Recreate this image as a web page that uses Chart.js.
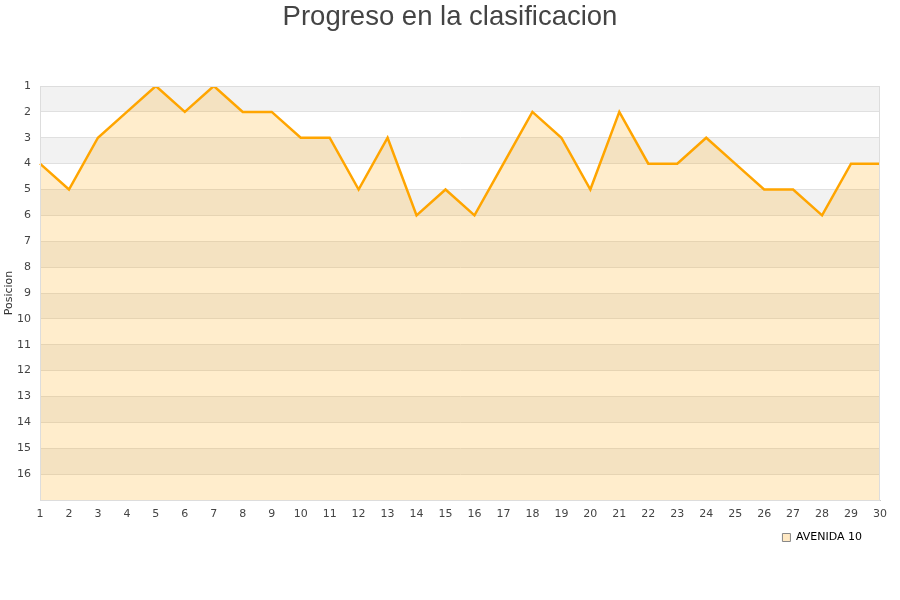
<!DOCTYPE html>
<html>
<head>
<meta charset="utf-8">
<script src="https://cdn.jsdelivr.net/npm/chart.js@4/dist/chart.umd.min.js"></script>
<style>
  html, body { margin: 0; padding: 0; background: #fff; }
  #wrap { width: 900px; height: 600px; }
</style>
</head>
<body>
<div id="wrap"><canvas id="chart" width="900" height="600"></canvas></div>
<script>
const jornadas = ['1', '2', '3', '4', '5', '6', '7', '8', '9', '10', '11', '12', '13', '14', '15',
  '16', '17', '18', '19', '20', '21', '22', '23', '24', '25', '26', '27', '28', '29', '30'];
const posiciones = [4, 5, 3, 2, 1, 2, 1, 2, 2, 3, 3, 5, 3, 6, 5, 6, 4, 2, 3, 5, 2, 4, 4, 3, 4, 5, 5, 6, 4, 4];
const equipo = 'AVENIDA 10';
const totalEquipos = 16;

// alternate grey / white rows behind the plot, thin frame around it
const bands = {
  id: 'bands',
  afterLayout(chart) {
    // pull the legend in from the right edge
    chart.legend.right -= 28;
  },
  beforeDraw(chart) {
    const { ctx, chartArea, scales } = chart;
    const y = scales.y;
    ctx.save();
    ctx.fillStyle = '#f2f2f2';
    for (let k = 1; k <= totalEquipos; k += 2) {
      const top = y.getPixelForValue(k);
      const bot = y.getPixelForValue(k + 1);
      ctx.fillRect(chartArea.left, top, chartArea.right - chartArea.left, bot - top);
    }
    ctx.restore();
  },
  afterDraw(chart) {
    const { ctx, chartArea } = chart;
    ctx.save();
    ctx.strokeStyle = '#dddddd';
    ctx.lineWidth = 1;
    ctx.strokeRect(chartArea.left + 0.5, chartArea.top + 0.5,
      chartArea.right - chartArea.left - 1, chartArea.bottom - chartArea.top);
    ctx.restore();
  }
};

new Chart(document.getElementById('chart'), {
  type: 'line',
  data: {
    labels: jornadas,
    datasets: [{
      label: equipo,
      data: posiciones,
      borderColor: '#ffa500',
      borderWidth: 2.5,
      backgroundColor: 'rgba(255,165,0,0.2)',
      fill: 'start',
      pointRadius: 0,
      tension: 0
    }]
  },
  options: {
    responsive: false,
    animation: false,
    layout: { padding: { left: 0, right: 0, top: 0, bottom: 47 } },
    plugins: {
      title: {
        display: true,
        text: 'Progreso en la clasificacion',
        color: '#444',
        font: { family: 'Liberation Sans', size: 27.5, weight: 'normal', lineHeight: 1.2 },
        padding: { top: 1, bottom: 52 }
      },
      legend: {
        position: 'bottom',
        align: 'end',
        labels: {
          boxWidth: 8,
          boxHeight: 8,
          padding: 10,
          color: '#111',
          font: { family: 'DejaVu Sans', size: 11 },
          generateLabels: () => [{
            text: equipo,
            fillStyle: '#ffe9c4',
            strokeStyle: '#888',
            lineWidth: 1,
            datasetIndex: 0
          }]
        }
      },
      tooltip: { enabled: false }
    },
    scales: {
      x: {
        offset: false,
        grid: { display: false },
        border: { color: '#cccccc' },
        ticks: {
          color: '#444',
          font: { family: 'DejaVu Sans', size: 11 },
          maxRotation: 0,
          autoSkip: false,
          padding: 0
        },
        afterFit: (s) => { s.height = 22; }
      },
      y: {
        reverse: true,
        min: 1,
        max: totalEquipos + 1,
        border: { color: '#cccccc' },
        grid: { color: '#e0e0e0', drawTicks: false },
        ticks: {
          stepSize: 1,
          color: '#444',
          padding: 9,
          font: { family: 'DejaVu Sans', size: 11 },
          callback: (v) => (v <= totalEquipos ? v : '')
        },
        title: {
          display: true,
          text: 'Posicion',
          color: '#333',
          font: { family: 'DejaVu Sans', size: 11 },
          padding: { top: 3, bottom: 0 }
        },
        afterFit: (s) => { s.width = 40; }
      },
      // empty right axis, only reserves the gap on the right of the plot
      yRight: {
        position: 'right',
        display: true,
        grid: { display: false },
        border: { display: false },
        ticks: { display: false },
        afterFit: (s) => { s.width = 20; }
      }
    }
  },
  plugins: [bands]
});
</script>
</body>
</html>
